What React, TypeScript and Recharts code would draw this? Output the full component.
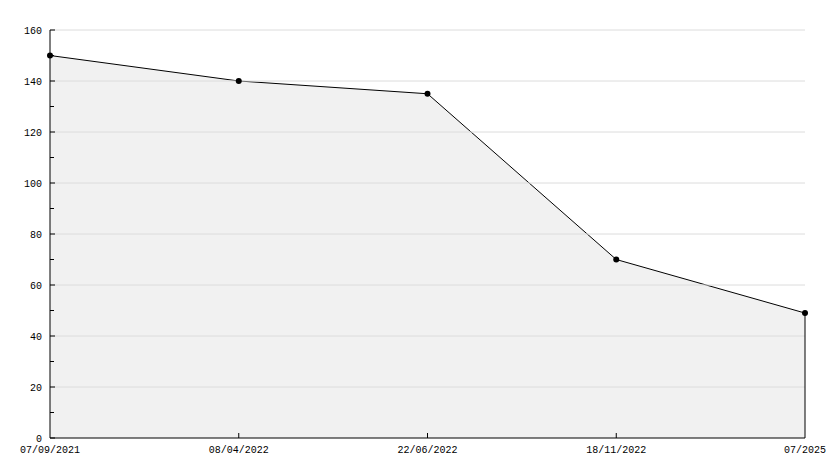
import { AreaChart, Area, XAxis, YAxis, ReferenceLine } from "recharts";

const dates = ["07/09/2021", "08/04/2022", "22/06/2022", "18/11/2022", "07/2025"];
const prices = [150, 140, 135, 70, 49];
const yTicks = [0, 10, 20, 30, 40, 50, 60, 70, 80, 90, 100, 110, 120, 130, 140, 150, 160];
const gridValues = [20, 40, 60, 80, 100, 120, 140, 160];

const data = dates.map((d, i) => ({ date: d, price: prices[i] }));

const FONT = "'Liberation Mono', 'DejaVu Sans Mono', monospace";

function YTick(props: { x?: number; y?: number; payload?: { value: number } }) {
  const { x = 0, y = 0, payload } = props;
  const v = payload ? payload.value : 0;
  const major = v % 20 === 0;
  return (
    <g>
      <line x1={x} y1={y} x2={x + (major ? 5 : 4)} y2={y} stroke="#000" strokeWidth={1} />
      {major && (
        <text x={x - 8} y={y} dy={4} textAnchor="end" fill="#000" fontSize={10} fontFamily={FONT}>
          {v}
        </text>
      )}
    </g>
  );
}

function XTick(props: { x?: number; y?: number; index?: number; payload?: { value: string } }) {
  const { x = 0, y = 0, payload, index = 0 } = props;
  const edge = index === 0 || index === dates.length - 1;
  return (
    <g>
      {!edge && <line x1={x} y1={y} x2={x} y2={y - 5} stroke="#000" strokeWidth={1} />}
      <text x={x} y={y + 15} textAnchor="middle" fill="#000" fontSize={10} fontFamily={FONT}>
        {payload ? payload.value : ""}
      </text>
    </g>
  );
}

export default function App() {
  return (
    <div style={{ position: "absolute", left: 0, top: 0, width: 834, height: 468, background: "#fff" }}>
      <AreaChart
        width={834}
        height={468}
        data={data}
        margin={{ top: 30, right: 29, bottom: 0, left: 0 }}
        style={{ fontFamily: FONT }}
      >
        <XAxis
          dataKey="date"
          type="category"
          height={30}
          tick={<XTick />}
          tickSize={0}
          tickMargin={0}
          tickLine={false}
          axisLine={{ stroke: "#000", strokeWidth: 1 }}
          interval={0}
        />
        <YAxis
          width={50}
          domain={[0, 160]}
          ticks={yTicks}
          interval={0}
          tick={<YTick />}
          tickSize={0}
          tickMargin={0}
          tickLine={false}
          axisLine={{ stroke: "#000", strokeWidth: 1 }}
        />
        <Area
          type="linear"
          dataKey="price"
          stroke="#000"
          strokeWidth={1}
          fill="#f1f1f1"
          fillOpacity={1}
          dot={{ r: 3, fill: "#000", stroke: "none" }}
          activeDot={false}
          isAnimationActive={false}
        />
        {gridValues.map((v) => (
          <ReferenceLine key={v} y={v} stroke="#dcdcdc" strokeWidth={1} />
        ))}
        <ReferenceLine
          segment={[
            { x: dates[dates.length - 1], y: 0 },
            { x: dates[dates.length - 1], y: prices[prices.length - 1] },
          ]}
          stroke="#000"
          strokeWidth={1}
        />
      </AreaChart>
    </div>
  );
}
